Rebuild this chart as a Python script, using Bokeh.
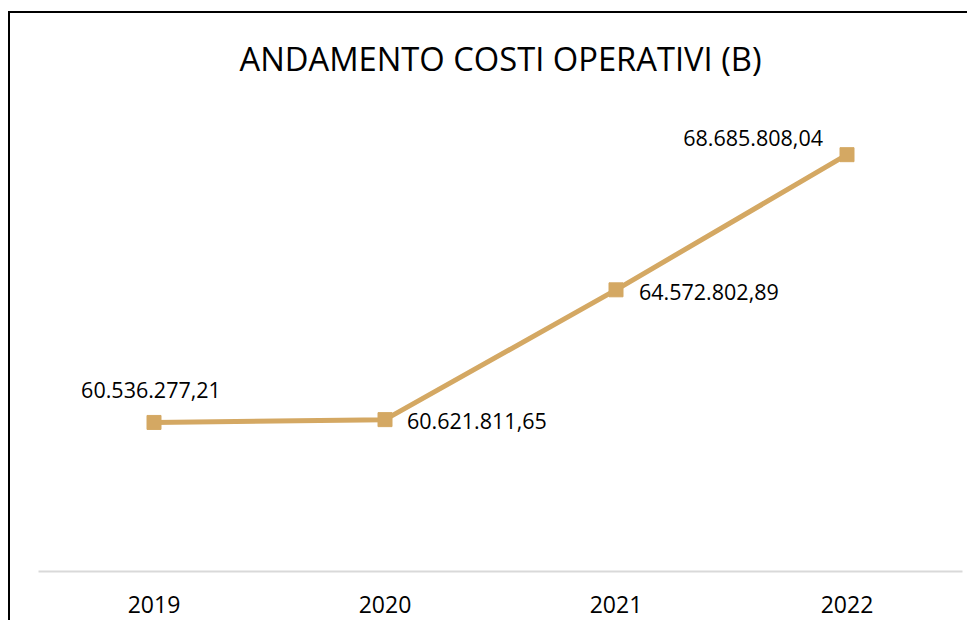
from bokeh.plotting import figure
from bokeh.models import ColumnDataSource, Range1d, FactorRange, Label
from bokeh.core.properties import value
from bokeh.embed import file_html
from bokeh.resources import INLINE

years = ["2019", "2020", "2021", "2022"]
costs = [60536277.21, 60621811.65, 64572802.89, 68685808.04]
labels = ["60.536.277,21", "60.621.811,65", "64.572.802,89", "68.685.808,04"]
title_text = "ANDAMENTO COSTI OPERATIVI (B)"

COLOR = "#D4A863"
FONT = "Open Sans"

# layout: value axis 56M..70M spans the plot area; extra headroom above for the title
W, H = 959, 609
B_LEFT, B_RIGHT, B_BOTTOM = 28, 7, 51
TOP_PAD = 98          # px between canvas top and the 70M level
AX_MIN, AX_MAX = 56000000, 70000000
scale = (AX_MAX - AX_MIN) / (H - B_BOTTOM - TOP_PAD)
y_end = AX_MAX + TOP_PAD * scale

p = figure(width=W, height=H, x_range=FactorRange(factors=years),
           y_range=Range1d(AX_MIN, y_end),
           output_backend="svg", toolbar_location=None,
           min_border_left=B_LEFT, min_border_right=B_RIGHT, min_border_top=0,
           min_border_bottom=B_BOTTOM)
p.background_fill_color = "white"
p.border_fill_color = "white"
p.outline_line_color = None
p.grid.visible = False

p.yaxis.visible = False
p.xaxis.axis_line_color = "#D9D9D9"
p.xaxis.axis_line_width = 2
p.xaxis.major_tick_line_color = None
p.xaxis.minor_tick_line_color = None
p.xaxis.major_label_text_font = FONT
p.xaxis.major_label_text_font_size = "23px"
p.xaxis.major_label_text_color = "#000000"
p.xaxis.major_label_standoff = 18

src = ColumnDataSource(dict(x=years, y=costs, lab=labels,
                            xo=[-3, 22, 23, -24], yo=[-32, 1, 2, -17],
                            al=["center", "left", "left", "right"]))
p.line("x", "y", source=src, line_color=COLOR, line_width=5)
p.scatter("x", "y", source=src, marker="square", size=14,
          fill_color=COLOR, line_color=COLOR)
p.text("x", "y", text="lab", source=src, x_offset="xo", y_offset="yo",
       text_align="al", text_baseline="middle",
       text_font=value(FONT), text_font_size="21.5px", text_color="#000000")

title = Label(x=len(years) / 2, y=y_end - 45 * scale, text=title_text,
              text_align="center", text_baseline="middle",
              text_font=FONT, text_font_size="32.7px", text_color="#000000")
p.add_layout(title)

p.styles = {"border-left": "2px solid #000000", "border-top": "2px solid #000000",
            "margin-left": "8px", "margin-top": "11px"}

open("out.html", "w").write(file_html(p, INLINE))
